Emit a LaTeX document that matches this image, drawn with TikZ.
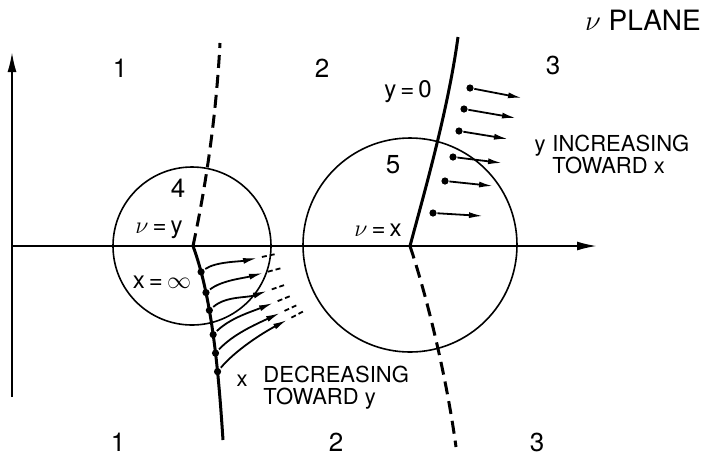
\documentclass[tikz,border=0pt]{standalone}
\usepackage{fontspec}
\setmainfont{TeX Gyre Heros}
\usetikzlibrary{arrows.meta}

\begin{document}
\begin{tikzpicture}[x=0.5pt, y=-0.5pt, >={Latex[length=7pt,width=3pt]},
  font=\fontsize{12}{12}\selectfont, line width=0.8pt,
  spot/.style={circle, fill, inner sep=0pt, minimum size=3.6pt},
  axis/.style={-{Latex[length=10pt,width=4.5pt]}, line width=1pt},
  cut/.style={line width=1.5pt},
  cutdash/.style={line width=1.5pt, dash pattern=on 6.5pt off 3.5pt},
  flow/.style={line width=0.9pt},
  brokenline/.style={line width=0.9pt, dash pattern=on 2.5pt off 1.5pt},
  region/.style={font=\fontsize{13}{13}\selectfont},
  note/.style={font=\fontsize{11}{11}\selectfont}]
  \useasboundingbox (0,0) rectangle (707,462);
  % axes
  \coordinate (O) at (12,246);
  \coordinate (ytop) at (12,52);
  \coordinate (ybot) at (12,397);
  \coordinate (xend) at (597,246);
  \draw[axis] (ybot) -- (ytop);
  \draw[axis] (O) -- (xend);
  % circles 4 and 5
  \coordinate (c4) at (192,246);
  \coordinate (c5) at (410,245);
  \draw (c4) circle[radius=79];
  \draw (c5) circle[radius=107];
  % branch lines
  \coordinate (by) at (193,246);
  \coordinate (bx) at (410,246);
  \draw[cutdash] (by) .. controls (205,190) and (216,120) .. (220,43);
  \draw[cut] (by) .. controls (213,300) and (219,380) .. (223,440)
    node[pos=0.15, spot] (d1) {} node[pos=0.26, spot] (d2) {}
    node[pos=0.35, spot] (d3) {} node[pos=0.47, spot] (d4) {}
    node[pos=0.56, spot] (d5) {} node[pos=0.65, spot] (d6) {};
  \draw[cut] (bx) .. controls (425,190) and (448,110) .. (458,37);
  \draw[cutdash] (bx) .. controls (428,300) and (447,380) .. (456,447);
  % x decreasing toward y
  \foreach \i/\tx/\ty/\a/\b/\L in {1/257/258/35/12/18, 2/263/273/38/15/20,
      3/267/291/41/19/22, 4/273/303/44/22/24, 5/280/313/47/25/26,
      6/287/320/50/28/28} {
    \coordinate (t\i) at (\tx,\ty);
    \draw[->, flow] (d\i) .. controls +(-\a:\L) and +(180-\b:\L) .. (t\i);
    \draw[brokenline] (t\i) ++(-\b:5) -- ++(-\b:14);
  }
  % y increasing toward x
  \foreach \i/\px/\py/\qx/\qy in {1/470/88/522/98, 2/464/109/516/118,
      3/459/131/508/139, 4/453/157/502/163, 5/445/181/493/186,
      6/433/213/483/216} {
    \node[spot] (p\i) at (\px,\py) {};
    \coordinate (q\i) at (\qx,\qy);
    \draw[->, flow] (p\i) -- (q\i);
  }
  % labels
  \node[region] (r1t) at (120,68) {1};
  \node[region] (r2t) at (322,68) {2};
  \node[region] (r3t) at (553,65) {3};
  \node[region] (r1b) at (118,442) {1};
  \node[region] (r2b) at (336,442) {2};
  \node[region] (r3b) at (537,442) {3};
  \node[font=\fontsize{14}{14}\selectfont] (plane) at (643,20) {$\nu$ PLANE};
  \node[region] (l4) at (178,188) {4};
  \node[region] (l5) at (393,165) {5};
  \node (nuy) at (159,230) {$\nu$\,=\,y};
  \node (xinf) at (162,282) {x\,=\,$\infty$};
  \node (nux) at (378,230) {$\nu$\,=\,x};
  \node (y0) at (408,92) {y\,=\,0};
  \node[note, anchor=base] (xl) at (242,386) {x};
  \node[note, anchor=west, align=left] (xdec) at (256,388) {DECREASING\\TOWARD y};
  \node[note, anchor=base] (yl) at (540,151) {y};
  \node[note, anchor=west, align=left] (yinc) at (545,154) {INCREASING\\TOWARD x};
\end{tikzpicture}
\end{document}
